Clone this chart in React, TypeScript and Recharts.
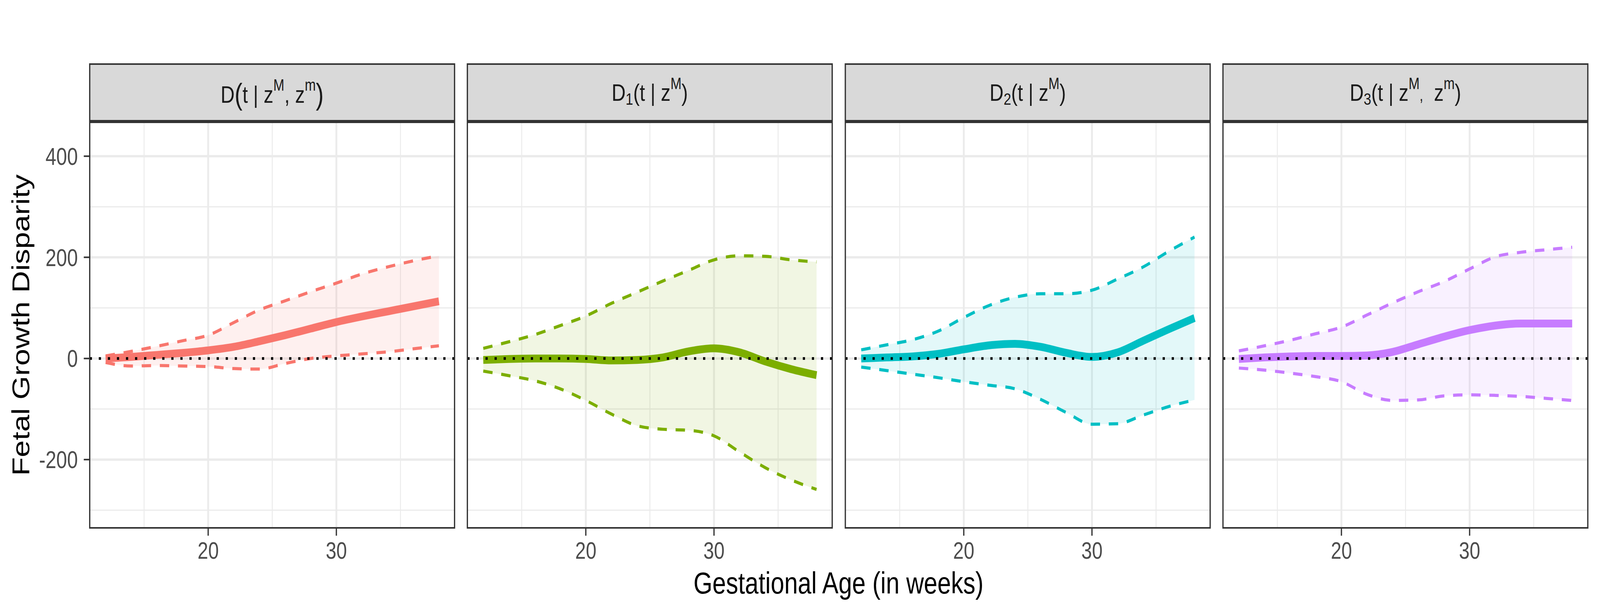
import React from "react";
import {
  ComposedChart,
  Line,
  Area,
  XAxis,
  YAxis,
  CartesianGrid,
  ReferenceLine,
} from "recharts";

// ---------- data ----------
const weeks = [12, 14, 16, 18, 20, 22, 24, 26, 28, 30, 32, 34, 36, 38];

const dMid = [0, 3, 7, 11, 16, 23, 34, 46, 59, 72, 83, 93, 103, 113];
const dHi = [5, 14, 24, 35, 46, 71, 96, 114, 132, 149, 167, 181, 193, 203];
const dLo = [-8, -15, -14, -15, -16, -20, -21, -10, 0, 5, 9, 13, 19, 25];

const d1Mid = [-3, -1, 0, 0, -1, -4, -3, 2, 14, 20, 12, -6, -21, -33];
const d1Hi = [20, 33, 47, 65, 84, 109, 131, 153, 174, 195, 203, 202, 195, 191];
const d1Lo = [-25, -34, -44, -60, -83, -110, -133, -140, -142, -153, -185, -216, -240, -259];

const d2Mid = [0, 2, 4, 9, 18, 26, 29, 23, 11, 3, 12, 35, 58, 80];
const d2Hi = [17, 27, 37, 54, 81, 105, 121, 128, 128, 135, 157, 181, 212, 240];
const d2Lo = [-17, -24, -31, -38, -46, -53, -60, -81, -107, -130, -129, -112, -95, -82];

const d3Mid = [-1, 2, 4, 5, 5, 6, 13, 28, 43, 56, 65, 69, 69, 69];
const d3Hi = [15, 25, 36, 49, 62, 86, 110, 132, 152, 177, 201, 210, 215, 220];
const d3Lo = [-19, -23, -29, -36, -46, -71, -83, -82, -74, -72, -73, -75, -79, -83];

const seriesColors = ["#F8766D", "#7CAE00", "#00BFC4", "#C77CFF"];

const xTicks = [20, 30];
const xMinor = [15, 25, 35];
const yTicks = [-200, 0, 200, 400];
const yMinor = [-300, -100, 100, 300];
const xDomain: [number, number] = [10.76, 39.22];
const yDomain: [number, number] = [-335, 467];

const xTitle = "Gestational Age (in weeks)";
const yTitle = "Fetal Growth Disparity";

const buildRows = (mid: number[], lo: number[], hi: number[]) =>
  weeks.map((w, i) => ({ week: w, mid: mid[i], lo: lo[i], hi: hi[i] }));

const panelData = [
  buildRows(dMid, dLo, dHi),
  buildRows(d1Mid, d1Lo, d1Hi),
  buildRows(d2Mid, d2Lo, d2Hi),
  buildRows(d3Mid, d3Lo, d3Hi),
];

// ---------- layout (in reference pixels) ----------
const FULL_W = 5118;
const FULL_H = 1574;
const FONT = "'Liberation Sans', Arial, Helvetica, sans-serif";
const PANEL_LEFT0 = 287;
const PANEL_STEP = 1208.3;
const PANEL_W = 1166.5;
const PANEL_TOP = 313;
const PLOT_H = 1038;
const STRIP_TOP = 162;
const STRIP_H = 149;
const YAXIS_W = 200;
const XAXIS_H = 110;

const Sup = ({ children }: { children: React.ReactNode }) => (
  <span style={{ fontSize: "0.68em", position: "relative", top: "-0.72em" }}>{children}</span>
);
const Sub = ({ children }: { children: React.ReactNode }) => (
  <span style={{ fontSize: "0.7em", position: "relative", top: "0.22em" }}>{children}</span>
);
const BigParen = ({ children }: { children: React.ReactNode }) => (
  <span style={{ fontSize: "1.22em", position: "relative", top: "0.06em", fontWeight: 300 }}>{children}</span>
);

const stripLabels: React.ReactNode[] = [
  <>
    D<BigParen>(</BigParen>t | z<Sup>M</Sup>, z<Sup>m</Sup><BigParen>)</BigParen>
  </>,
  <>
    D<Sub>1</Sub>(t | z<Sup>M</Sup>)
  </>,
  <>
    D<Sub>2</Sub>(t | z<Sup>M</Sup>)
  </>,
  <>
    D<Sub>3</Sub>(t | z<Sup>M</Sup>
    <span style={{ fontSize: "0.68em" }}>,</span>
    {"\u00a0\u00a0"}z<Sup>m</Sup>)
  </>,
];

const Panel = ({ idx }: { idx: number }) => {
  const left = Math.round(PANEL_LEFT0 + idx * PANEL_STEP);
  const withY = idx === 0;
  const chartLeft = withY ? left - YAXIS_W : left;
  const chartW = Math.round(PANEL_W) + (withY ? YAXIS_W : 0);
  const color = seriesColors[idx];
  return (
    <>
      <div
        style={{
          position: "absolute",
          left: left - 2,
          top: STRIP_TOP,
          width: Math.round(PANEL_W) + 4,
          height: STRIP_H,
          boxSizing: "border-box",
          border: "4px solid #333333",
          background: "#D9D9D9",
          display: "flex",
          alignItems: "center",
          justifyContent: "center",
          fontFamily: FONT,
          fontSize: 62,
          color: "#1A1A1A",
          whiteSpace: "nowrap",
        }}
      >
        <span>{stripLabels[idx]}</span>
      </div>
      <div style={{ position: "absolute", left: chartLeft, top: PANEL_TOP }}>
        <ComposedChart
          width={chartW}
          height={PLOT_H + XAXIS_H}
          data={panelData[idx]}
          margin={{ top: 0, right: 0, bottom: 0, left: 0 }}
        >
          <CartesianGrid
            stroke="#EBEBEB"
            strokeWidth={3}
            horizontalValues={yMinor}
            verticalValues={xMinor}
            syncWithTicks={false}
          />
          <CartesianGrid
            stroke="#EBEBEB"
            strokeWidth={6}
            horizontalValues={yTicks}
            verticalValues={xTicks}
            syncWithTicks={false}
          />
          <XAxis
            dataKey="week"
            type="number"
            domain={xDomain}
            ticks={xTicks}
            allowDataOverflow
            height={XAXIS_H}
            axisLine={false}
            tickSize={20}
            tickMargin={16}
            tickLine={{ stroke: "#333333", strokeWidth: 4 }}
            tick={{ fill: "#4D4D4D", fontSize: 61, fontFamily: FONT }}
          />
          <YAxis
            type="number"
            domain={yDomain}
            ticks={yTicks}
            allowDataOverflow
            hide={!withY}
            width={YAXIS_W}
            axisLine={false}
            tickSize={19}
            tickMargin={19}
            tickLine={{ stroke: "#333333", strokeWidth: 4 }}
            tick={{ fill: "#4D4D4D", fontSize: 62, fontFamily: FONT }}
          />
          <Area
            dataKey={(d: any) => [d.lo, d.hi]}
            type="monotone"
            stroke="none"
            fill={color}
            fillOpacity={0.11}
            isAnimationActive={false}
            activeDot={false}
          />
          <Line
            dataKey="hi"
            type="monotone"
            stroke={color}
            strokeWidth={8}
            strokeDasharray="30 28"
            dot={false}
            activeDot={false}
            isAnimationActive={false}
          />
          <Line
            dataKey="lo"
            type="monotone"
            stroke={color}
            strokeWidth={8}
            strokeDasharray="30 28"
            dot={false}
            activeDot={false}
            isAnimationActive={false}
          />
          <Line
            dataKey="mid"
            type="monotone"
            stroke={color}
            strokeWidth={20}
            dot={false}
            activeDot={false}
            isAnimationActive={false}
          />
          <ReferenceLine y={0} stroke="#000000" strokeWidth={7} strokeDasharray="7 22" />
        </ComposedChart>
      </div>
      <div
        style={{
          position: "absolute",
          left: left - 2,
          top: PANEL_TOP - 2,
          width: Math.round(PANEL_W) + 4,
          height: PLOT_H + 4,
          boxSizing: "border-box",
          border: "4px solid #333333",
          pointerEvents: "none",
        }}
      />
    </>
  );
};

export default function App() {
  // The browser viewport may be narrower than the requested 5118 px
  // (the screen is clamped), so the whole figure is fitted to the viewport.
  const vw = typeof window !== "undefined" ? window.innerWidth : FULL_W;
  const vh = typeof window !== "undefined" ? window.innerHeight : FULL_H;
  const sx = vw / FULL_W;
  const sy = vh / FULL_H;
  return (
    <div
      style={{
        position: "fixed",
        left: 0,
        top: 0,
        width: vw,
        height: vh,
        overflow: "hidden",
        background: "#FFFFFF",
      }}
    >
      <div
        style={{
          position: "absolute",
          left: 0,
          top: 0,
          width: FULL_W,
          height: FULL_H,
          background: "#FFFFFF",
          transform: `scale(${sx}, ${sy})`,
          transformOrigin: "0 0",
        }}
      >
        {[0, 1, 2, 3].map((i) => (
          <Panel key={i} idx={i} />
        ))}
        <div
          style={{
            position: "absolute",
            left: 67,
            top: PANEL_TOP + PLOT_H / 2,
            transform: "translate(-50%, -50%) rotate(-90deg)",
            fontFamily: FONT,
            fontSize: 78,
            color: "#000000",
            whiteSpace: "nowrap",
          }}
        >
          {yTitle}
        </div>
        <div
          style={{
            position: "absolute",
            left: 2682,
            top: 1447,
            transform: "translateX(-50%)",
            fontFamily: FONT,
            fontSize: 78,
            color: "#000000",
            whiteSpace: "nowrap",
          }}
        >
          {xTitle}
        </div>
      </div>
    </div>
  );
}
